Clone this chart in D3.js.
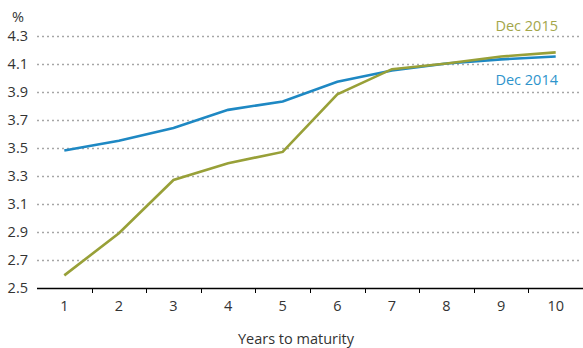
<!DOCTYPE html>
<html>
<head>
<meta charset="utf-8">
<script src="https://cdn.jsdelivr.net/npm/d3@7"></script>
<style>
  html, body { margin: 0; padding: 0; background: #fff; }
  svg { display: block; font-family: "Open Sans", "Noto Sans", sans-serif; }
</style>
</head>
<body>
<svg id="chart" width="583" height="348"></svg>
<script>
// Yield curves by years to maturity (%)
const maturities = [1, 2, 3, 4, 5, 6, 7, 8, 9, 10];
const dec2014 = [3.48, 3.55, 3.64, 3.77, 3.83, 3.97, 4.05, 4.10, 4.13, 4.15];
const dec2015 = [2.59, 2.89, 3.27, 3.39, 3.47, 3.88, 4.06, 4.10, 4.15, 4.18];
const yTicks = [2.5, 2.7, 2.9, 3.1, 3.3, 3.5, 3.7, 3.9, 4.1, 4.3];
const seriesNames = ["Dec 2014", "Dec 2015"];

const svg = d3.select("#chart");
const plotLeft = 37, plotRight = 583, plotTop = 35.5, plotBottom = 288;
const fontSize = 14.5;

const x = d3.scaleBand().domain(maturities).range([plotLeft, plotRight]);
const y = d3.scaleLinear().domain([2.5, 4.3]).range([plotBottom, plotTop]);

// dotted horizontal gridlines
svg.append("g")
  .selectAll("line")
  .data(yTicks.filter(t => t > 2.5))
  .join("line")
  .attr("x1", plotLeft).attr("x2", plotRight - 2)
  .attr("y1", d => Math.round(y(d)) + 0.5).attr("y2", d => Math.round(y(d)) + 0.5)
  .attr("stroke", "#a6a6a6")
  .attr("stroke-width", 1.5)
  .attr("stroke-dasharray", "2,3");

// y tick labels
svg.append("g")
  .selectAll("text")
  .data(yTicks)
  .join("text")
  .attr("x", 28)
  .attr("y", d => y(d))
  .attr("dy", "0.36em")
  .attr("text-anchor", "end")
  .attr("font-size", fontSize)
  .attr("fill", "#333")
  .text(d => d.toFixed(1));

svg.append("text")
  .attr("x", 12).attr("y", 22)
  .attr("font-size", fontSize).attr("fill", "#333")
  .text("%");

// x axis baseline with ticks between categories
const xAxis = svg.append("g");
xAxis.append("line")
  .attr("x1", plotLeft).attr("x2", plotRight)
  .attr("y1", plotBottom + 0.5).attr("y2", plotBottom + 0.5)
  .attr("stroke", "#000").attr("stroke-width", 1.3);
xAxis.selectAll("line.tick")
  .data(maturities.slice(1))
  .join("line")
  .attr("class", "tick")
  .attr("x1", d => Math.round(x(d)) + 0.5).attr("x2", d => Math.round(x(d)) + 0.5)
  .attr("y1", plotBottom).attr("y2", plotBottom + 5)
  .attr("stroke", "#000").attr("stroke-width", 1);
xAxis.selectAll("text")
  .data(maturities)
  .join("text")
  .attr("x", d => x(d) + x.bandwidth() / 2)
  .attr("y", 311)
  .attr("text-anchor", "middle")
  .attr("font-size", fontSize)
  .attr("fill", "#333")
  .text(d => d);

svg.append("text")
  .attr("x", 296).attr("y", 344)
  .attr("text-anchor", "middle")
  .attr("font-size", fontSize).attr("fill", "#333")
  .text("Years to maturity");

// curves
const line = d3.line()
  .x((d, i) => x(maturities[i]) + x.bandwidth() / 2)
  .y(d => y(d));

svg.append("path")
  .datum(dec2014)
  .attr("d", line)
  .attr("fill", "none")
  .attr("stroke", "#1e88c3")
  .attr("stroke-width", 2.6);

svg.append("path")
  .datum(dec2015)
  .attr("d", line)
  .attr("fill", "none")
  .attr("stroke", "#98a038")
  .attr("stroke-width", 2.6);

// series labels
svg.append("text")
  .attr("x", 558).attr("y", 31)
  .attr("text-anchor", "end")
  .attr("font-size", fontSize).attr("fill", "#a3a64a")
  .text(seriesNames[1]);

svg.append("text")
  .attr("x", 558).attr("y", 85)
  .attr("text-anchor", "end")
  .attr("font-size", fontSize).attr("fill", "#2e94cc")
  .text(seriesNames[0]);
</script>
</body>
</html>
